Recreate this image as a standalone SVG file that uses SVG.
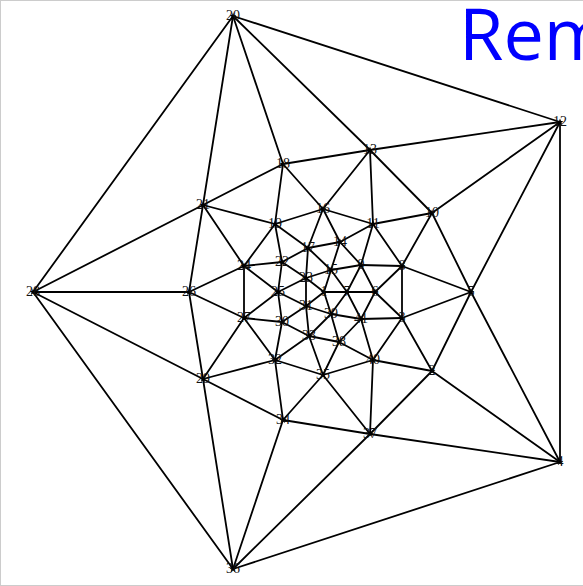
<svg xmlns="http://www.w3.org/2000/svg" xmlns:xlink="http://www.w3.org/1999/xlink" width="583" height="586" viewBox="0 0 583 586">
<style>
.e line{stroke:#000;stroke-width:1.8;stroke-linecap:round}
.n text{font-family:"Liberation Serif","Times New Roman",serif;font-size:14px;fill:#111;text-anchor:middle}
.title{font-family:"Open Sans","Liberation Sans",sans-serif;font-size:72px;fill:#0000ff}
</style>
<defs>
<path id="m" d="M0,-3.5 L1,-1 3.4,-1 1.5,0.6 2.2,3 0,1.6 -2.2,3 -1.5,0.6 -3.4,-1 -1,-1Z" fill="#000"/>
</defs>
<rect width="583" height="586" fill="#fff"/>
<rect x="0.5" y="0.5" width="620" height="585" fill="none" stroke="#cccccc" stroke-width="1"/>
<text class="title" x="459" y="60">Rem</text>
<g id="connectors" class="e">
<line x1="233" y1="16" x2="560" y2="122"/>
<line x1="560" y1="122" x2="560" y2="462"/>
<line x1="560" y1="462" x2="233" y2="569"/>
<line x1="233" y1="569" x2="33" y2="292"/>
<line x1="33" y1="292" x2="233" y2="16"/>
<line x1="233" y1="16" x2="283" y2="164"/>
<line x1="233" y1="16" x2="203" y2="205"/>
<line x1="233" y1="16" x2="370" y2="150"/>
<line x1="560" y1="122" x2="432" y2="213"/>
<line x1="560" y1="122" x2="370" y2="150"/>
<line x1="560" y1="122" x2="471" y2="292"/>
<line x1="560" y1="462" x2="432" y2="371"/>
<line x1="560" y1="462" x2="471" y2="292"/>
<line x1="560" y1="462" x2="370" y2="434"/>
<line x1="233" y1="569" x2="283" y2="420"/>
<line x1="233" y1="569" x2="370" y2="434"/>
<line x1="233" y1="569" x2="203" y2="379"/>
<line x1="33" y1="292" x2="189" y2="292"/>
<line x1="33" y1="292" x2="203" y2="379"/>
<line x1="33" y1="292" x2="203" y2="205"/>
<line x1="203" y1="205" x2="283" y2="164"/>
<line x1="283" y1="164" x2="370" y2="150"/>
<line x1="370" y1="150" x2="432" y2="213"/>
<line x1="432" y1="213" x2="471" y2="292"/>
<line x1="471" y1="292" x2="432" y2="371"/>
<line x1="432" y1="371" x2="370" y2="434"/>
<line x1="370" y1="434" x2="283" y2="420"/>
<line x1="283" y1="420" x2="203" y2="379"/>
<line x1="203" y1="379" x2="189" y2="292"/>
<line x1="189" y1="292" x2="203" y2="205"/>
<line x1="275" y1="224" x2="203" y2="205"/>
<line x1="275" y1="224" x2="283" y2="164"/>
<line x1="323" y1="209" x2="283" y2="164"/>
<line x1="323" y1="209" x2="370" y2="150"/>
<line x1="373" y1="224" x2="370" y2="150"/>
<line x1="373" y1="224" x2="432" y2="213"/>
<line x1="402" y1="266" x2="432" y2="213"/>
<line x1="402" y1="266" x2="471" y2="292"/>
<line x1="402" y1="318" x2="471" y2="292"/>
<line x1="402" y1="318" x2="432" y2="371"/>
<line x1="373" y1="360" x2="432" y2="371"/>
<line x1="373" y1="360" x2="370" y2="434"/>
<line x1="323" y1="375" x2="370" y2="434"/>
<line x1="323" y1="375" x2="283" y2="420"/>
<line x1="275" y1="360" x2="283" y2="420"/>
<line x1="275" y1="360" x2="203" y2="379"/>
<line x1="244" y1="318" x2="203" y2="379"/>
<line x1="244" y1="318" x2="189" y2="292"/>
<line x1="244" y1="266" x2="189" y2="292"/>
<line x1="244" y1="266" x2="203" y2="205"/>
<line x1="275" y1="224" x2="323" y2="209"/>
<line x1="323" y1="209" x2="373" y2="224"/>
<line x1="373" y1="224" x2="402" y2="266"/>
<line x1="402" y1="266" x2="402" y2="318"/>
<line x1="402" y1="318" x2="373" y2="360"/>
<line x1="373" y1="360" x2="323" y2="375"/>
<line x1="323" y1="375" x2="275" y2="360"/>
<line x1="275" y1="360" x2="244" y2="318"/>
<line x1="244" y1="318" x2="244" y2="266"/>
<line x1="244" y1="266" x2="275" y2="224"/>
<line x1="275" y1="224" x2="308" y2="248"/>
<line x1="275" y1="224" x2="282" y2="262"/>
<line x1="323" y1="209" x2="340" y2="242"/>
<line x1="323" y1="209" x2="308" y2="248"/>
<line x1="373" y1="224" x2="361" y2="265"/>
<line x1="373" y1="224" x2="340" y2="242"/>
<line x1="402" y1="266" x2="375" y2="292"/>
<line x1="402" y1="266" x2="361" y2="265"/>
<line x1="402" y1="318" x2="375" y2="292"/>
<line x1="402" y1="318" x2="361" y2="319"/>
<line x1="373" y1="360" x2="361" y2="319"/>
<line x1="373" y1="360" x2="339" y2="342"/>
<line x1="323" y1="375" x2="339" y2="342"/>
<line x1="323" y1="375" x2="309" y2="336"/>
<line x1="275" y1="360" x2="309" y2="336"/>
<line x1="275" y1="360" x2="282" y2="322"/>
<line x1="244" y1="318" x2="282" y2="322"/>
<line x1="244" y1="318" x2="278" y2="292"/>
<line x1="244" y1="266" x2="278" y2="292"/>
<line x1="244" y1="266" x2="282" y2="262"/>
<line x1="375" y1="292" x2="361" y2="265"/>
<line x1="361" y1="265" x2="340" y2="242"/>
<line x1="340" y1="242" x2="308" y2="248"/>
<line x1="308" y1="248" x2="282" y2="262"/>
<line x1="282" y1="262" x2="278" y2="292"/>
<line x1="278" y1="292" x2="282" y2="322"/>
<line x1="282" y1="322" x2="309" y2="336"/>
<line x1="309" y1="336" x2="339" y2="342"/>
<line x1="339" y1="342" x2="361" y2="319"/>
<line x1="361" y1="319" x2="375" y2="292"/>
<line x1="375" y1="292" x2="347" y2="292"/>
<line x1="340" y1="242" x2="331" y2="270"/>
<line x1="282" y1="262" x2="306" y2="278"/>
<line x1="282" y1="322" x2="306" y2="306"/>
<line x1="339" y1="342" x2="331" y2="314"/>
<line x1="361" y1="265" x2="347" y2="292"/>
<line x1="361" y1="265" x2="331" y2="270"/>
<line x1="308" y1="248" x2="331" y2="270"/>
<line x1="308" y1="248" x2="306" y2="278"/>
<line x1="278" y1="292" x2="306" y2="278"/>
<line x1="278" y1="292" x2="306" y2="306"/>
<line x1="309" y1="336" x2="306" y2="306"/>
<line x1="309" y1="336" x2="331" y2="314"/>
<line x1="361" y1="319" x2="331" y2="314"/>
<line x1="361" y1="319" x2="347" y2="292"/>
<line x1="347" y1="292" x2="331" y2="270"/>
<line x1="331" y1="270" x2="306" y2="278"/>
<line x1="306" y1="278" x2="306" y2="306"/>
<line x1="306" y1="306" x2="331" y2="314"/>
<line x1="331" y1="314" x2="347" y2="292"/>
<line x1="324" y1="292" x2="347" y2="292"/>
<line x1="324" y1="292" x2="331" y2="270"/>
<line x1="324" y1="292" x2="306" y2="278"/>
<line x1="324" y1="292" x2="306" y2="306"/>
<line x1="324" y1="292" x2="331" y2="314"/>
</g>
<g class="n">
<g id="n1"><use xlink:href="#m" x="324" y="292"/><text x="324" y="296">1</text></g>
<g id="n2"><use xlink:href="#m" x="432" y="371"/><text x="432" y="375">2</text></g>
<g id="n3"><use xlink:href="#m" x="402" y="318"/><text x="402" y="322">3</text></g>
<g id="n4"><use xlink:href="#m" x="560" y="462"/><text x="560" y="466">4</text></g>
<g id="n5"><use xlink:href="#m" x="471" y="292"/><text x="471" y="296">5</text></g>
<g id="n6"><use xlink:href="#m" x="375" y="292"/><text x="375" y="296">6</text></g>
<g id="n7"><use xlink:href="#m" x="347" y="292"/><text x="347" y="296">7</text></g>
<g id="n8"><use xlink:href="#m" x="402" y="266"/><text x="402" y="270">8</text></g>
<g id="n9"><use xlink:href="#m" x="361" y="265"/><text x="361" y="269">9</text></g>
<g id="n10"><use xlink:href="#m" x="432" y="213"/><text x="432" y="217">10</text></g>
<g id="n11"><use xlink:href="#m" x="373" y="224"/><text x="373" y="228">11</text></g>
<g id="n12"><use xlink:href="#m" x="560" y="122"/><text x="560" y="126">12</text></g>
<g id="n13"><use xlink:href="#m" x="370" y="150"/><text x="370" y="154">13</text></g>
<g id="n14"><use xlink:href="#m" x="340" y="242"/><text x="340" y="246">14</text></g>
<g id="n15"><use xlink:href="#m" x="331" y="270"/><text x="331" y="274">15</text></g>
<g id="n16"><use xlink:href="#m" x="323" y="209"/><text x="323" y="213">16</text></g>
<g id="n17"><use xlink:href="#m" x="308" y="248"/><text x="308" y="252">17</text></g>
<g id="n18"><use xlink:href="#m" x="283" y="164"/><text x="283" y="168">18</text></g>
<g id="n19"><use xlink:href="#m" x="275" y="224"/><text x="275" y="228">19</text></g>
<g id="n20"><use xlink:href="#m" x="233" y="16"/><text x="233" y="20">20</text></g>
<g id="n21"><use xlink:href="#m" x="203" y="205"/><text x="203" y="209">21</text></g>
<g id="n22"><use xlink:href="#m" x="282" y="262"/><text x="282" y="266">22</text></g>
<g id="n23"><use xlink:href="#m" x="306" y="278"/><text x="306" y="282">23</text></g>
<g id="n24"><use xlink:href="#m" x="244" y="266"/><text x="244" y="270">24</text></g>
<g id="n25"><use xlink:href="#m" x="278" y="292"/><text x="278" y="296">25</text></g>
<g id="n26"><use xlink:href="#m" x="189" y="292"/><text x="189" y="296">26</text></g>
<g id="n27"><use xlink:href="#m" x="244" y="318"/><text x="244" y="322">27</text></g>
<g id="n28"><use xlink:href="#m" x="33" y="292"/><text x="33" y="296">28</text></g>
<g id="n29"><use xlink:href="#m" x="203" y="379"/><text x="203" y="383">29</text></g>
<g id="n30"><use xlink:href="#m" x="282" y="322"/><text x="282" y="326">30</text></g>
<g id="n31"><use xlink:href="#m" x="306" y="306"/><text x="306" y="310">31</text></g>
<g id="n32"><use xlink:href="#m" x="275" y="360"/><text x="275" y="364">32</text></g>
<g id="n33"><use xlink:href="#m" x="309" y="336"/><text x="309" y="340">33</text></g>
<g id="n34"><use xlink:href="#m" x="283" y="420"/><text x="283" y="424">34</text></g>
<g id="n35"><use xlink:href="#m" x="323" y="375"/><text x="323" y="379">35</text></g>
<g id="n36"><use xlink:href="#m" x="233" y="569"/><text x="233" y="573">36</text></g>
<g id="n37"><use xlink:href="#m" x="370" y="434"/><text x="370" y="438">37</text></g>
<g id="n38"><use xlink:href="#m" x="339" y="342"/><text x="339" y="346">38</text></g>
<g id="n39"><use xlink:href="#m" x="331" y="314"/><text x="331" y="318">39</text></g>
<g id="n40"><use xlink:href="#m" x="373" y="360"/><text x="373" y="364">40</text></g>
<g id="n41"><use xlink:href="#m" x="361" y="319"/><text x="361" y="323">41</text></g>
</g>
</svg>
